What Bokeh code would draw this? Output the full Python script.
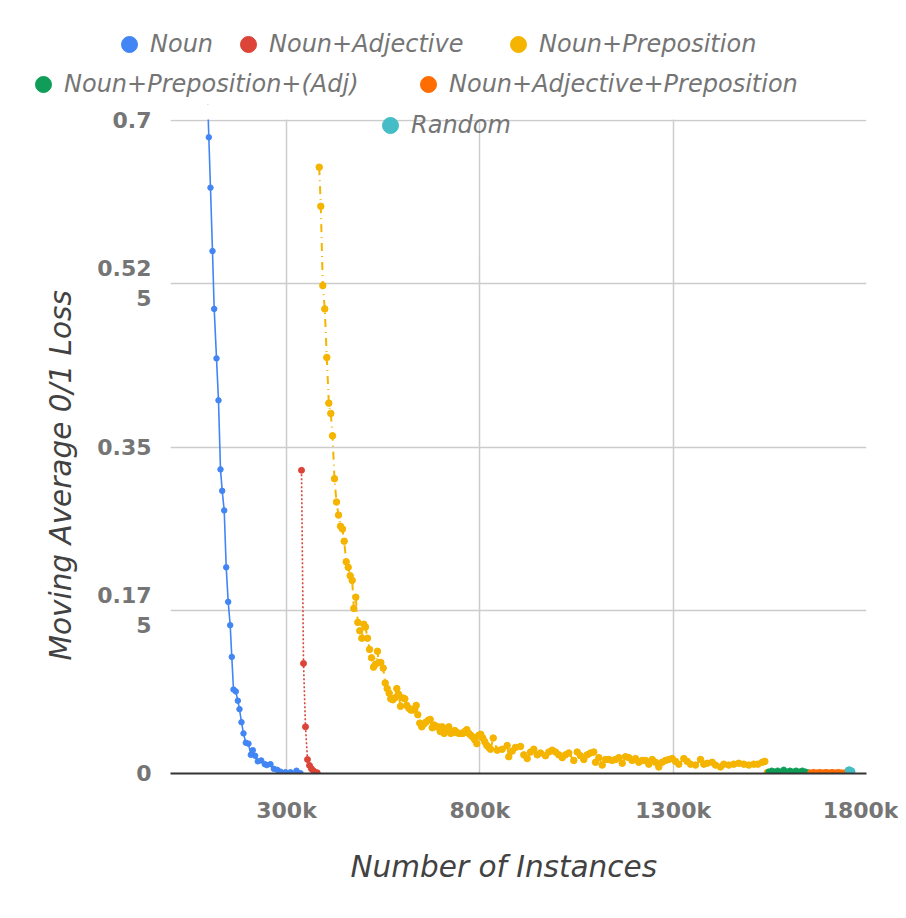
from bokeh.plotting import figure
from bokeh.layouts import column
from bokeh.models import (Range1d, FixedTicker, Legend, LegendItem, ColumnDataSource, Title,
                          BoxAnnotation)
from bokeh.embed import file_html
from bokeh.resources import INLINE

# ---------------- data (x in thousands of instances) ----------------
noun_x = [92.0, 99.1, 103.4, 108.6, 113.0, 119.0, 124.1, 129.3, 133.7, 138.9, 144.1, 149.2,
          154.4, 158.5, 162.9, 168.9, 174.1, 178.4, 183.6, 188.8, 194.7, 201.7, 207.7,
          212.8, 219.0, 225.8, 234.6, 243.9, 249.1, 258.6, 267.2, 275.9, 284.5, 297.4,
          310.3, 325.9, 336.2]
noun_y = [0.780, 0.682, 0.628, 0.560, 0.498, 0.445, 0.400, 0.326, 0.303, 0.282, 0.221, 0.184,
          0.159, 0.125, 0.090, 0.088, 0.078, 0.069, 0.055, 0.043, 0.033, 0.032, 0.020,
          0.025, 0.019, 0.013, 0.014, 0.010, 0.009, 0.010, 0.005, 0.004, 0.002, 0.0014,
          0.0014, 0.003, 0.0003]

adj_x = [338.8, 344.0, 349.1, 354.3, 359.5, 364.7, 370.6, 379.4]
adj_y = [0.325, 0.118, 0.050, 0.015, 0.0086, 0.005, 0.0025, 0.0008]

prep_x = [384.6, 388.7, 393.9, 399.0, 404.2, 409.4, 414.6, 419.0, 424.1, 429.3, 434.5, 439.7,
          444.8, 449.2, 454.4, 459.6, 464.7, 469.9, 474.1, 479.2, 484.4, 489.6, 494.7, 499.9,
          504.3, 509.5, 514.7, 519.8, 525.0, 530.2, 535.3, 538.7, 543.9, 550.1, 555.3, 560.4,
          565.6, 569.7, 574.9, 580.1, 585.3, 589.7, 594.8, 600.8, 606.0, 611.1, 616.3, 621.5,
          626.6, 631.8, 635.4, 639.6, 644.7, 649.9, 655.1, 660.3, 666.5, 671.6, 676.8, 682.0,
          687.2, 692.3, 697.5, 702.7, 707.8, 713.0, 719.7, 724.9, 730.1, 735.3, 740.4, 745.6,
          750.8, 756.0, 761.1, 766.3, 771.5, 776.6, 781.8, 787.0, 792.2, 797.3, 802.5, 807.7,
          812.9, 818.0, 823.2, 827.6, 834.6, 844.9, 857.8, 870.8, 874.9, 883.7, 892.2, 905.2,
          913.7, 922.5, 931.0, 939.6, 948.4, 956.9, 969.8, 978.4, 987.2, 995.7, 1004.2, 1013.0,
          1021.6, 1030.1, 1043.0, 1051.8, 1060.3, 1068.9, 1077.7, 1086.2, 1094.7, 1099.1,
          1107.7, 1116.5, 1125.0, 1133.6, 1142.3, 1150.9, 1159.4, 1168.2, 1176.7, 1185.3,
          1194.1, 1202.6, 1211.1, 1219.9, 1228.4, 1237.0, 1245.8, 1254.3, 1262.8, 1271.6,
          1280.2, 1288.7, 1297.5, 1306.0, 1314.6, 1327.5, 1336.3, 1344.8, 1357.7, 1370.7,
          1379.2, 1388.0, 1400.9, 1409.5, 1422.4, 1430.9, 1443.9, 1456.8, 1469.7, 1482.7,
          1495.6, 1508.5, 1518.9, 1530.3, 1537.0, 1543.2]
prep_y = [0.650, 0.608, 0.523, 0.498, 0.446, 0.397, 0.386, 0.362, 0.316, 0.291, 0.277, 0.265,
          0.262, 0.249, 0.227, 0.221, 0.212, 0.207, 0.177, 0.189, 0.162, 0.153, 0.145, 0.160,
          0.157, 0.145, 0.133, 0.124, 0.114, 0.117, 0.131, 0.119, 0.119, 0.113, 0.097, 0.091,
          0.086, 0.080, 0.079, 0.081, 0.091, 0.085, 0.072, 0.081, 0.080, 0.073, 0.070, 0.068,
          0.068, 0.069, 0.073, 0.063, 0.054, 0.050, 0.053, 0.055, 0.057, 0.058, 0.049, 0.052,
          0.050, 0.050, 0.045, 0.050, 0.043, 0.046, 0.050, 0.043, 0.044, 0.046, 0.044, 0.043,
          0.043, 0.043, 0.045, 0.047, 0.043, 0.041, 0.039, 0.036, 0.032, 0.041, 0.042, 0.038,
          0.034, 0.030, 0.028, 0.026, 0.038, 0.025, 0.026, 0.030, 0.018, 0.024, 0.028, 0.029,
          0.020, 0.016, 0.023, 0.026, 0.020, 0.022, 0.019, 0.023, 0.025, 0.023, 0.020, 0.017,
          0.020, 0.022, 0.014, 0.023, 0.019, 0.015, 0.020, 0.022, 0.023, 0.012,
          0.017, 0.009, 0.015, 0.015, 0.014, 0.015, 0.017, 0.011, 0.018, 0.017,
          0.014, 0.016, 0.012, 0.014, 0.014, 0.010, 0.015, 0.012, 0.007, 0.012,
          0.014, 0.015, 0.016, 0.013, 0.010, 0.016, 0.013, 0.010, 0.009, 0.015,
          0.010, 0.011, 0.012, 0.009, 0.007, 0.010, 0.009, 0.010, 0.011, 0.010,
          0.009, 0.010, 0.010, 0.012, 0.013, 0.001]

prep_adj_x = [1547, 1555, 1562, 1570, 1578, 1586, 1594, 1602, 1610, 1618, 1626, 1634, 1642, 1650]
prep_adj_y = [0.002, 0.003, 0.002, 0.003, 0.002, 0.004, 0.002, 0.003, 0.002, 0.003, 0.002,
              0.003, 0.002, 0.001]

adj_prep_x = [1655, 1663, 1671, 1679, 1687, 1695, 1703, 1711, 1719, 1727, 1735, 1743]
adj_prep_y = [0.001, 0.0015, 0.001, 0.0015, 0.001, 0.0015, 0.001, 0.0015, 0.001, 0.0015,
              0.001, 0.001]

random_x = [1755, 1760]
random_y = [0.003, 0.002]

x_ticks = [300, 800, 1300, 1800]
x_tick_labels = ["300k", "800k", "1300k", "1800k"]
y_ticks = [0, 0.175, 0.35, 0.525, 0.7]
y_tick_labels = ["0", "0.17\n5", "0.35", "0.52\n5", "0.7"]
x_max = 1800
y_max = 0.7

series_names = ["Noun", "Noun+Adjective", "Noun+Preposition",
                "Noun+Preposition+(Adj)", "Noun+Adjective+Preposition", "Random"]
series_colors = ["#4285F4", "#DB4437", "#F4B400", "#0F9D58", "#FF6D01", "#46BDC6"]

x_title = "Number of Instances"
y_title = "Moving Average 0/1 Loss"

FONT = "DejaVu Sans"
W = 898
TOP_FIG_H = 104       # legend rows 1 and 2
PLOT_H = 653          # height of the data area (0 .. 0.7)
EXTRA_H = 16          # room inside the frame above 0.7 (third legend row)

series = [
    (noun_x, noun_y, "solid", 1.6, 5.5),
    (adj_x, adj_y, "2 2", 1.6, 6),
    (prep_x, prep_y, "8 5 1 5", 2, 6.5),
    (prep_adj_x, prep_adj_y, "solid", 2, 5.5),
    (adj_prep_x, adj_prep_y, "solid", 2, 5.5),
    (random_x, random_y, "solid", 2, 8),
]
sources = [ColumnDataSource(data=dict(x=xs, y=ys)) for xs, ys, *_ in series]

legend_style = dict(orientation="horizontal", padding=0, margin=0, spacing=0,
                    glyph_width=42, glyph_height=40, label_standoff=0,
                    label_text_font=FONT, label_text_font_style="italic",
                    label_text_font_size="24px", label_text_color="#757575",
                    border_line_color=None, background_fill_alpha=0)

# ---------------- legend strip (rows 1 and 2) ----------------
# its range lies left of all the data, so the series markers here only feed the legend keys
top = figure(width=W, height=TOP_FIG_H, frame_width=W, frame_height=TOP_FIG_H,
             min_border=0, x_range=Range1d(-2, -1), y_range=Range1d(0, 1),
             x_axis_type=None, y_axis_type=None,
             output_backend="svg", toolbar_location=None, tools="")
top.outline_line_color = None
top.grid.visible = False
keys = [top.scatter("x", "y", source=s, size=6, fill_color=c, line_color=c)
        for s, c in zip(sources, series_colors)]
top_pos = {0: (108, 40), 1: (227, 40), 2: (497, 40), 3: (22, 0), 4: (407, 0)}
for i, pos in top_pos.items():
    top.add_layout(Legend(items=[LegendItem(label=series_names[i], renderers=[keys[i]])],
                          location=pos, **legend_style), "center")

# ---------------- main chart ----------------
p = figure(frame_width=696, frame_height=PLOT_H + EXTRA_H, width=W, height=806,
           min_border_left=170, min_border_right=32, min_border_top=0, min_border_bottom=137,
           x_range=Range1d(0, x_max),
           y_range=Range1d(0, y_max * (PLOT_H + EXTRA_H) / PLOT_H),
           output_backend="svg", toolbar_location=None, tools="")
p.outline_line_color = None
p.background_fill_color = "white"
p.border_fill_color = "white"

xa = p.xaxis[0]
xa.ticker = FixedTicker(ticks=x_ticks)
xa.major_label_overrides = {t: l for t, l in zip(x_ticks, x_tick_labels)}
xa.major_tick_line_color = None
xa.minor_tick_line_color = None
xa.axis_line_color = "#333333"
xa.axis_line_width = 2
xa.major_label_text_font = FONT
xa.major_label_text_font_style = "bold"
xa.major_label_text_font_size = "22px"
xa.major_label_text_color = "#757575"
xa.major_label_standoff = 18

ya = p.yaxis[0]
ya.ticker = FixedTicker(ticks=y_ticks)
ya.major_label_overrides = {t: l for t, l in zip(y_ticks, y_tick_labels)}
ya.major_tick_line_color = None
ya.minor_tick_line_color = None
ya.axis_line_color = None
ya.major_label_text_font = FONT
ya.major_label_text_font_style = "bold"
ya.major_label_text_font_size = "22px"
ya.major_label_text_color = "#757575"
ya.major_label_standoff = 13

p.add_layout(Title(text=x_title, align="left", offset=180, standoff=44,
                   text_font=FONT, text_font_style="italic", text_font_size="29.5px",
                   text_color="#424242"), "below")
p.add_layout(Title(text=y_title, align="left", offset=113, standoff=33,
                   text_font=FONT, text_font_style="italic", text_font_size="29.5px",
                   text_color="#424242"), "left")

p.xgrid.ticker = FixedTicker(ticks=x_ticks)
p.xgrid.bounds = (0, y_max)
p.ygrid.ticker = FixedTicker(ticks=y_ticks)
for g in (p.xgrid[0], p.ygrid[0]):
    g.grid_line_color = "#cccccc"
    g.grid_line_width = 1.5

dots = []
for (xs, ys, dash, lw, size), src, color in zip(series, sources, series_colors):
    p.line("x", "y", source=src, line_color=color, line_width=lw, line_dash=dash)
    r = p.scatter("x", "y", source=src, size=size, fill_color=color, line_color=color)
    dots.append(r)

# keep the data clipped at the top of the value axis (legend row 3 sits above it)
p.add_layout(BoxAnnotation(bottom=y_max + 0.0012, top=2 * y_max, left=-x_max, right=2 * x_max,
                           fill_color="white", fill_alpha=1, line_color=None, level="guide"))

p.add_layout(Legend(items=[LegendItem(label=series_names[5], renderers=[dots[5]])],
                    location=(199, 628), **legend_style), "center")

layout = column(top, p, spacing=0)
open("out.html", "w").write(file_html(layout, INLINE))
